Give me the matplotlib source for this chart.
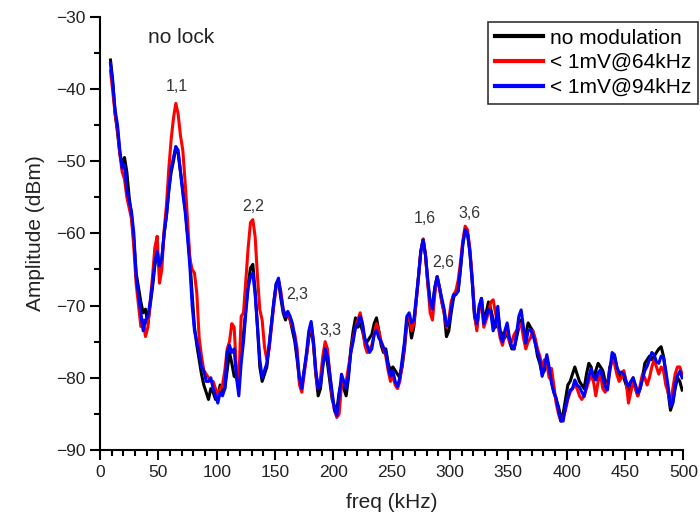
import numpy as np
import matplotlib
matplotlib.use("Agg")
import matplotlib.pyplot as plt
from matplotlib.ticker import MultipleLocator

plt.rcParams['font.family'] = ['Liberation Sans', 'DejaVu Sans']

# frequency samples (kHz)
freq = np.arange(9, 500, 2)

no_mod = [
    -36.0, -39.0, -43.5, -46.0, -49.0, -50.5, -49.5, -51.5, -55.0, -57.5,
    -61.0, -65.5, -67.5, -69.5, -71.0, -70.5, -72.5, -70.0, -67.5, -64.5,
    -62.5, -65.0, -63.5, -60.0, -57.5, -54.0, -51.5, -50.0, -48.0, -49.0,
    -51.5, -54.0, -56.5, -60.0, -63.5, -68.5, -73.0, -75.5, -77.5, -79.5,
    -81.0, -82.0, -83.0, -81.5, -82.0, -83.0, -82.5, -81.0, -82.0, -81.5,
    -79.0, -76.5, -78.0, -79.8, -80.0, -81.0, -77.0, -74.0, -70.5, -67.0,
    -64.8, -64.3, -68.0, -73.0, -78.5, -80.5, -79.5, -78.5, -75.5, -72.5,
    -69.5, -67.0, -66.5, -69.0, -71.0, -72.0, -71.0, -72.0, -73.5, -75.0,
    -77.5, -80.5, -81.0, -79.0, -77.0, -74.5, -73.0, -75.5, -79.5, -82.5,
    -81.5, -78.0, -76.5, -78.0, -80.5, -83.0, -84.0, -84.5, -82.0, -80.5,
    -81.5, -82.5, -80.0, -76.0, -73.5, -71.7, -73.0, -72.5, -73.5, -75.0,
    -75.0, -74.5, -74.0, -72.5, -71.7, -73.5, -75.5, -76.5, -76.0, -78.0,
    -79.0, -78.5, -79.0, -79.5, -80.0, -78.5, -76.0, -72.5, -72.0, -74.5,
    -73.0, -69.5, -66.0, -62.5, -60.8, -63.0, -67.0, -69.5, -70.0, -67.5,
    -66.0, -67.5, -69.5, -71.0, -74.3, -73.5, -71.0, -69.0, -68.0, -68.0,
    -65.0, -61.5, -59.5, -60.0, -62.5, -66.5, -71.5, -73.0, -70.5, -69.0,
    -72.0, -71.0, -69.5, -70.5, -72.0, -73.0, -71.0, -73.5, -74.0, -74.5,
    -73.5, -75.0, -76.0, -76.0, -74.5, -73.0, -72.0, -73.5, -74.0, -72.4,
    -73.0, -73.5, -75.0, -77.0, -78.0, -79.5, -79.0, -78.0, -79.0, -80.5,
    -82.0, -83.0, -84.0, -85.5, -85.0, -83.0, -81.0, -80.5, -79.5, -78.5,
    -79.5, -80.5, -81.0, -81.5, -79.5, -78.0, -78.5, -80.5, -79.0, -78.0,
    -78.5, -79.0, -80.5, -81.0, -78.5, -77.5, -77.0, -78.5, -80.0, -79.5,
    -80.0, -81.0, -82.0, -81.5, -80.0, -81.5, -82.5, -81.5, -80.0, -78.0,
    -77.5, -77.0, -77.5, -77.0, -76.5, -76.0, -75.7, -77.0, -79.5, -82.0,
    -84.5, -83.5, -81.5, -80.0, -80.5, -81.7,
]

mod_64 = [
    -37.5, -40.5, -43.5, -45.5, -49.0, -51.5, -52.5, -55.0, -56.5, -58.0,
    -62.0, -67.0, -70.0, -72.9, -72.0, -74.3, -73.0, -69.5, -66.0, -62.0,
    -60.4, -66.9, -65.0, -59.5, -56.0, -51.0, -47.0, -44.0, -42.0, -43.5,
    -46.5, -48.5, -53.0, -58.0, -63.5, -65.0, -65.5, -68.3, -74.5, -77.0,
    -79.0, -79.5, -80.0, -80.5, -80.5, -81.5, -82.5, -81.5, -81.0, -79.0,
    -76.0, -75.0, -72.5, -73.0, -79.0, -80.5, -71.5, -71.0, -66.5, -62.0,
    -58.5, -58.1, -60.5, -66.0, -70.6, -72.0, -75.7, -77.5, -76.0, -73.0,
    -70.0, -67.5, -66.5, -68.0, -70.5, -71.5, -71.0, -72.0, -73.0, -74.0,
    -76.0, -81.0, -82.0, -79.5, -77.0, -74.0, -72.5, -75.0, -79.5, -81.5,
    -80.0, -77.0, -75.0, -76.0, -79.5, -82.5, -84.5, -85.5, -85.0, -81.0,
    -80.5, -80.5, -78.5, -76.5, -74.5, -73.0, -72.0, -71.0, -72.5, -75.5,
    -76.5, -76.0, -75.5, -74.0, -72.5, -73.5, -75.0, -76.0, -77.0, -79.0,
    -80.5, -79.5, -81.0, -81.5, -80.5, -78.0, -75.5, -72.0, -71.5, -73.5,
    -72.5, -69.5, -66.0, -62.5, -60.8, -63.0, -67.0, -71.0, -72.0, -68.5,
    -66.0, -67.5, -69.5, -71.0, -73.0, -72.0, -69.5, -68.5, -68.0, -66.5,
    -64.0, -61.0, -59.0, -59.5, -62.0, -66.0, -71.0, -73.5, -70.5, -69.5,
    -73.0, -72.0, -71.0, -69.5, -69.2, -71.0, -72.5, -74.5, -75.5, -74.0,
    -73.0, -75.0, -75.0, -74.0, -73.5, -73.0, -72.5, -74.5, -76.0, -75.0,
    -74.5, -73.5, -74.5, -76.0, -77.0, -78.5, -77.5, -78.0, -80.0, -78.7,
    -81.0, -83.5, -85.0, -86.0, -85.5, -84.5, -83.0, -82.0, -81.5, -81.0,
    -81.5, -82.5, -83.0, -82.5, -81.5, -80.5, -79.5, -80.5, -82.5, -80.5,
    -79.5, -81.5, -82.0, -81.0, -79.0, -77.5, -78.0, -79.5, -80.5, -80.0,
    -79.0, -80.5, -83.5, -82.0, -80.5, -81.5, -82.5, -81.0, -79.5, -80.0,
    -81.0, -80.0, -78.5, -77.5, -78.5, -79.5, -78.5, -79.0, -81.0, -82.0,
    -83.5, -81.5, -79.5, -78.5, -78.5, -79.5,
]

mod_94 = [
    -36.5, -39.5, -43.0, -45.0, -48.5, -51.0, -50.5, -54.0, -55.5, -57.0,
    -60.0, -66.0, -68.5, -71.0, -73.5, -72.0, -71.5, -69.5, -67.0, -64.0,
    -62.5, -64.5, -63.5, -60.0, -57.5, -54.0, -51.0, -49.5, -48.0, -48.5,
    -51.5, -54.5, -57.0, -60.5, -64.5, -70.0, -73.5, -75.0, -76.5, -78.5,
    -79.0, -80.5, -80.5, -80.0, -81.5, -82.5, -83.5, -82.0, -82.5, -81.5,
    -76.5, -75.5, -76.5, -76.0, -80.0, -82.5, -78.0, -75.0, -71.0, -67.5,
    -66.0, -65.5, -68.5, -73.0, -77.5, -80.0, -79.0, -78.0, -75.5, -72.5,
    -69.5, -67.0, -66.2, -68.5, -70.5, -71.5, -70.8, -71.5, -72.5, -74.5,
    -77.0, -80.0, -81.5, -79.0, -76.5, -73.5, -72.2, -75.0, -79.0, -81.5,
    -81.0, -78.5, -76.0, -77.0, -79.5, -82.0, -84.5, -85.2, -82.5, -79.5,
    -80.5, -81.5, -79.5, -76.5, -75.0, -73.0, -72.5, -71.5, -72.5, -74.5,
    -75.5, -76.5, -76.0, -74.0, -73.4, -74.5, -75.0, -75.8, -76.5, -78.5,
    -79.8, -79.0, -80.5, -81.2, -80.0, -77.5, -75.0, -71.5, -71.0, -72.4,
    -72.0, -69.0, -66.0, -62.5, -60.9, -63.0, -66.4, -69.5, -70.5, -67.5,
    -66.0, -67.5, -69.0, -70.5, -72.8, -72.5, -70.6, -68.5, -68.5, -68.0,
    -64.8, -61.5, -59.5, -60.0, -62.5, -66.5, -71.0, -72.5, -70.0, -69.0,
    -72.5, -71.5, -70.5, -71.0, -73.5, -72.5, -70.1, -74.0, -75.0, -73.5,
    -72.4, -74.5, -75.7, -76.0, -74.0, -71.5, -70.6, -73.0, -75.2, -73.5,
    -73.3, -74.0, -75.2, -76.5, -77.5, -79.8, -78.5, -76.8, -78.5, -80.7,
    -82.0, -82.8, -84.5, -86.0, -86.0, -84.0, -82.8, -81.7, -81.5, -80.3,
    -81.0, -81.3, -82.0, -82.6, -81.0, -79.8, -78.7, -79.8, -80.3, -79.3,
    -78.9, -80.0, -81.2, -81.7, -79.0, -76.5, -76.8, -78.5, -79.3, -79.2,
    -79.5, -80.5, -81.2, -80.5, -80.0, -81.0, -82.1, -81.5, -80.2, -79.0,
    -78.4, -77.5, -76.5, -76.8, -77.8, -78.0, -77.0, -77.1, -79.0, -81.2,
    -84.0, -83.5, -81.0, -79.7, -79.1, -80.0,
]

series_labels = ["no modulation", "< 1mV@64kHz", "< 1mV@94kHz"]
series_colors = ["black", "red", "blue"]

peak_labels = ["1,1", "2,2", "2,3", "3,3", "1,6", "2,6", "3,6"]
peak_x = [65.5, 131, 169.5, 198, 278.5, 294.5, 317]
peak_y = [-39.6, -56.3, -68.5, -73.4, -58.0, -64.0, -57.3]

fig = plt.figure(figsize=(7.0, 5.17), dpi=100)
ax = fig.add_axes([100/700, 1-450/517, 583.3/700, 433.3/517])

for vals, lab, col in zip([no_mod, mod_64, mod_94], series_labels, series_colors):
    ax.plot(freq, vals, color=col, lw=2.2, label=lab, solid_joinstyle='round')

ax.set_xlim(0, 500)
ax.set_ylim(-90, -30)
ax.xaxis.set_major_locator(MultipleLocator(50))
ax.xaxis.set_minor_locator(MultipleLocator(10))
ax.yaxis.set_major_locator(MultipleLocator(10))
ax.yaxis.set_minor_locator(MultipleLocator(5))

for s in ['top', 'right']:
    ax.spines[s].set_visible(False)
for s in ['left', 'bottom']:
    ax.spines[s].set_linewidth(1.5)

ax.tick_params(which='major', direction='out', length=7, width=1.5, labelsize=12.5, colors='black')
ax.tick_params(which='minor', direction='out', length=4, width=1.5)
for lbl in ax.get_xticklabels() + ax.get_yticklabels():
    lbl.set_color('#222222')

ax.set_xlabel("freq (kHz)", fontsize=15, color='#222222', labelpad=10)
ax.set_ylabel("Amplitude (dBm)", fontsize=15, color='#222222', labelpad=8)

ax.text(41, -32.9, "no lock", fontsize=15, ha='left', va='center', color='#222222')
for t, x, y in zip(peak_labels, peak_x, peak_y):
    ax.text(x, y, t, fontsize=11.5, ha='center', va='center', color='#333333')

leg = ax.legend(loc='upper left', bbox_to_anchor=(488/700, 1-21.7/517),
                bbox_transform=fig.transFigure, borderaxespad=0, fontsize=15,
                frameon=True, fancybox=False, edgecolor='black', handlelength=2.3,
                handletextpad=0.35, labelspacing=0.27, borderpad=0.33)
leg.get_frame().set_linewidth(1.2)
for line in leg.get_lines():
    line.set_linewidth(3)

fig.savefig("out.png", dpi=100)
